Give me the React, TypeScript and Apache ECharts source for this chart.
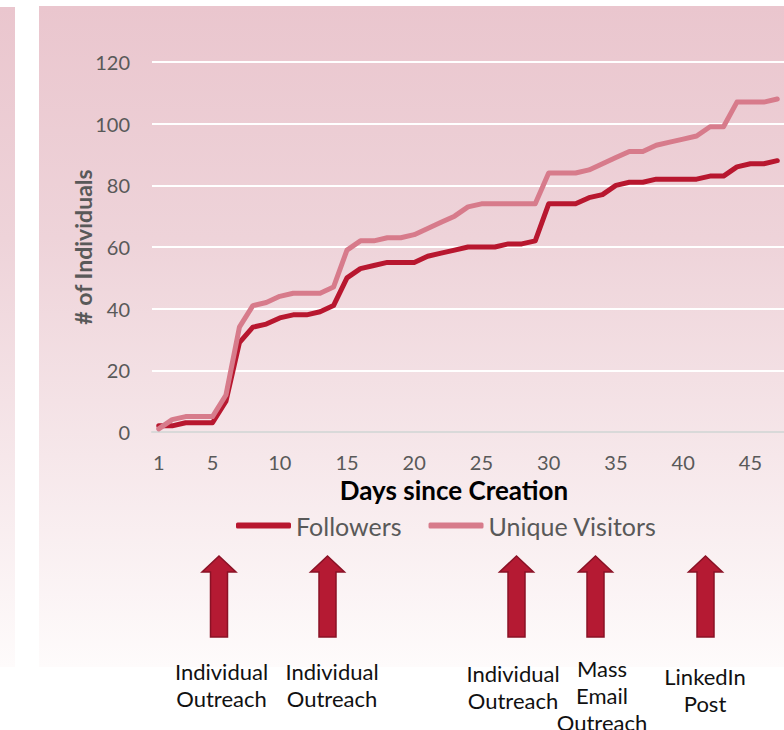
import React, { useEffect, useRef } from "react";
import * as echarts from "echarts";

const days: string[] = Array.from({ length: 47 }, (_, i) => String(i + 1));
const followers: number[] = [2, 2, 3, 3, 3, 10, 29, 34, 35, 37, 38, 38, 39, 41, 50, 53, 54, 55, 55, 55, 57, 58, 59, 60, 60, 60, 61, 61, 62, 74, 74, 74, 76, 77, 80, 81, 81, 82, 82, 82, 82, 83, 83, 86, 87, 87, 88];
const visitors: number[] = [1, 4, 5, 5, 5, 12, 34, 41, 42, 44, 45, 45, 45, 47, 59, 62, 62, 63, 63, 64, 66, 68, 70, 73, 74, 74, 74, 74, 74, 84, 84, 84, 85, 87, 89, 91, 91, 93, 94, 95, 96, 99, 99, 107, 107, 107, 108];
const seriesNames: string[] = ["Followers", "Unique Visitors"];
const eventCenters: number[] = [219, 327.5, 516.5, 595.5, 705.5];
const eventLabels: string[] = ["Individual\nOutreach", "Individual\nOutreach", "Individual\nOutreach", "Mass\nEmail\nOutreach", "LinkedIn\nPost"];
const labelCenters: number[] = [221.5, 332, 513, 602, 705];
const labelTops: number[] = [657.5, 657.5, 659.5, 654.5, 662.5];

const FONT = "Lato, 'Open Sans', sans-serif";
const DARK = "#b8172f";
const PINK = "#d77b8b";

export default function App() {
  const ref = useRef<HTMLDivElement>(null);
  useEffect(() => {
    if (!ref.current) return;
    const chart = echarts.init(ref.current, undefined, { renderer: "svg" });
    const bgGrad = {
      type: "linear", x: 0, y: 0, x2: 0, y2: 1,
      colorStops: [
        { offset: 0, color: "#eac6ce" },
        { offset: 0.35, color: "#eed3d9" },
        { offset: 0.68, color: "#f6e7ea" },
        { offset: 1, color: "#fefbfb" },
      ],
    };
    const arrows = eventCenters.map((cx) => ({
      type: "polygon",
      z: 10,
      shape: {
        points: [
          [cx, 556], [cx + 17, 572], [cx + 8.5, 572], [cx + 8.5, 637],
          [cx - 8.5, 637], [cx - 8.5, 572], [cx - 17, 572],
        ],
      },
      style: { fill: "#b51a33", stroke: "#8a1226", lineWidth: 1.5 },
    }));
    const labels = eventLabels.map((t, i) => ({
      type: "text",
      z: 10,
      x: labelCenters[i],
      y: labelTops[i],
      style: {
        text: t, fill: "#111", font: `22px ${FONT}`, align: "center",
        verticalAlign: "top", lineHeight: 27,
      },
    }));
    chart.setOption({
      animation: false,
      backgroundColor: "#ffffff",
      graphic: [
        { type: "rect", z: -100, shape: { x: 39, y: 6, width: 745, height: 661 }, style: { fill: bgGrad } },
        { type: "rect", z: -100, shape: { x: 0, y: 7, width: 15, height: 660 }, style: { fill: bgGrad } },
        ...arrows,
        ...labels,
      ],
      grid: { left: 152, right: 0, top: 62, bottom: 298, containLabel: false },
      legend: {
        left: 231, top: 508, itemWidth: 55, itemHeight: 6, itemGap: 27, icon: "roundRect",
        textStyle: { fontFamily: FONT, fontSize: 25, color: "#595959" },
        data: seriesNames,
      },
      xAxis: {
        type: "category",
        data: days,
        boundaryGap: true,
        axisLine: { lineStyle: { color: "#d9d9d9", width: 2 } },
        axisTick: { show: false },
        axisLabel: {
          interval: (i: number) => i === 0 || (i + 1) % 5 === 0,
          fontFamily: FONT, fontSize: 20, color: "#595959", margin: 20,
        },
        name: "Days since Creation",
        nameLocation: "middle",
        nameGap: 45,
        nameMoveOverlap: false,
        nameTextStyle: { fontFamily: FONT, fontSize: 26, fontWeight: "bold", color: "#000", padding: [0, 28, 0, 0] },
      },
      yAxis: {
        type: "value",
        min: 0, max: 120, interval: 20,
        axisLine: { show: false },
        axisTick: { show: false },
        splitLine: { lineStyle: { color: "#ffffff", width: 2 } },
        axisLabel: { fontFamily: FONT, fontSize: 20, color: "#595959", margin: 22 },
        name: "# of Individuals",
        nameLocation: "middle",
        nameGap: 58,
        nameMoveOverlap: false,
        nameTextStyle: { fontFamily: FONT, fontSize: 23, fontWeight: "bold", color: "#595959" },
      },
      series: [
        {
          name: seriesNames[0], type: "line", data: followers, symbol: "none",
          lineStyle: { color: DARK, width: 5, cap: "round", join: "round" },
          itemStyle: { color: DARK },
        },
        {
          name: seriesNames[1], type: "line", data: visitors, symbol: "none",
          lineStyle: { color: PINK, width: 5, cap: "round", join: "round" },
          itemStyle: { color: PINK },
        },
      ],
    });
    return () => chart.dispose();
  }, []);
  return <div ref={ref} style={{ position: "fixed", left: 0, top: 0, width: 784, height: 730 }} />;
}
